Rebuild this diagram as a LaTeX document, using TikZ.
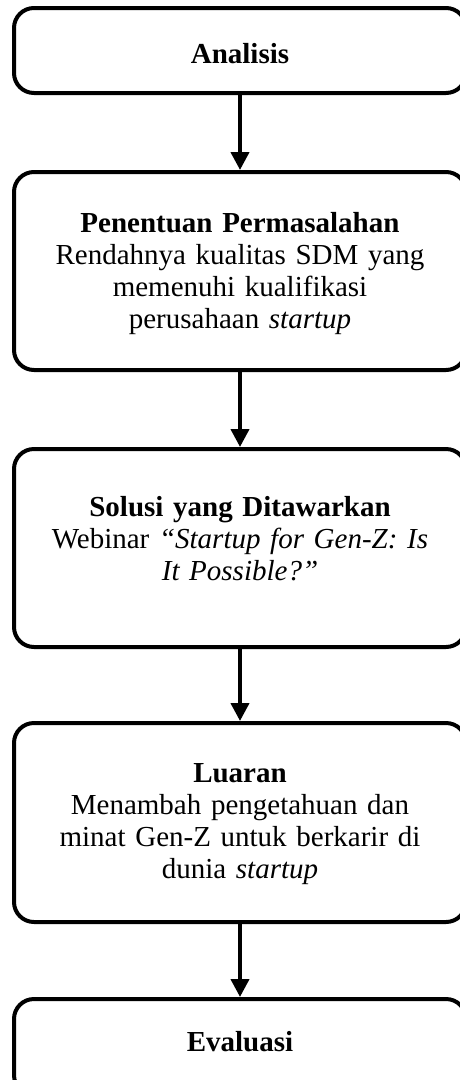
\documentclass[tikz,border=0pt]{standalone}
\usepackage{fontspec}
\setmainfont{Liberation Serif}
\usetikzlibrary{arrows.meta}
\begin{document}
\begin{tikzpicture}[x=1pt,y=-1pt,
  stepbox/.style={draw=black, line width=4pt, rounded corners=20pt, minimum width=452pt, inner sep=0pt},
  steptext/.style={align=center, inner sep=0pt, font=\fontsize{29}{32}\selectfont, text width=420pt},
  flow/.style={line width=4pt, -{Triangle[length=18pt,width=18pt]}}]
\useasboundingbox (0,0) rectangle (460,1080);
\clip (0,0) rectangle (460,1080);
\node[stepbox, minimum height=85pt] (a) at (240,50.5) {};
\node[stepbox, minimum height=198pt] (b) at (240,271) {};
\node[stepbox, minimum height=198pt] (c) at (240,548) {};
\node[stepbox, minimum height=199pt] (d) at (240,822.5) {};
\node[stepbox, minimum height=96pt] (e) at (240,1047) {};
\node[steptext] (ta) at (240,53.3) {\textbf{Analisis}};
\node[steptext] (tb) at (240,274) {\textbf{Penentuan Permasalahan}\\Rendahnya kualitas SDM yang\\memenuhi kualifikasi\\perusahaan \textit{startup}};
\node[steptext] (tc) at (240,539) {\textbf{Solusi yang Ditawarkan}\\Webinar \textit{“Startup for Gen-Z: Is}\\\textit{It Possible?”}};
\node[steptext] (td) at (240,824) {\textbf{Luaran}\\Menambah pengetahuan dan\\minat Gen-Z untuk berkarir di\\dunia \textit{startup}};
\node[steptext] (te) at (240,1042) {\textbf{Evaluasi}};
\draw[flow] (a) -- (b);
\draw[flow] (b) -- (c);
\draw[flow] (c) -- (d);
\draw[flow] (d) -- (e);
\end{tikzpicture}
\end{document}
